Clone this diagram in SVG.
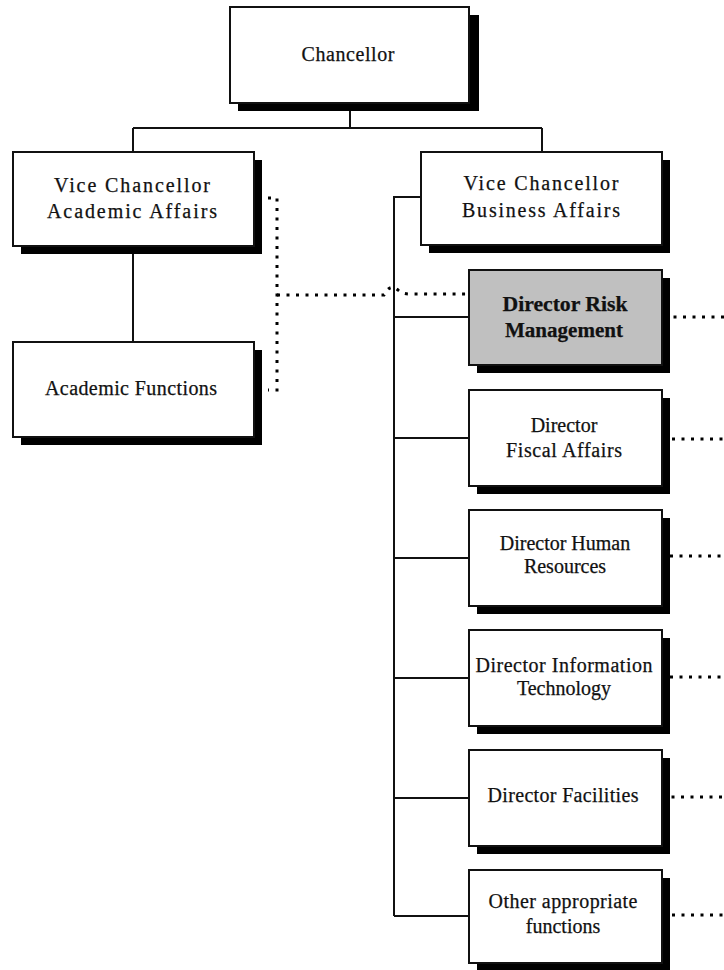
<svg xmlns="http://www.w3.org/2000/svg" width="724" height="970" viewBox="0 0 724 970">
  <defs>
    <style>
      .shadow { fill: #000; }
      .box { fill: #fff; stroke: #111; stroke-width: 2; }
      .box.hl { fill: #c0c0c0; }
      .solid { fill: none; stroke: #111; stroke-width: 2; }
      .dotted { fill: none; stroke: #000; stroke-width: 3; stroke-dasharray: 3 6.5; }
      text { font-family: "Liberation Serif", "Times New Roman", serif; font-size: 20px; fill: #111; text-anchor: middle; stroke: #111; stroke-width: 0.25; }
      .bold { font-weight: bold; }
    </style>
  </defs>

  <rect width="724" height="970" fill="#fff"/>

  <!-- reporting lines -->
  <g id="connectors">
    <path class="solid" d="M350,103 V128 M133,128 H542 M133,128 V152 M542,128 V152"/>
    <path class="solid" d="M133,246 V342"/>
    <path class="solid" d="M421,197 H394 V916"/>
    <path class="solid" d="M394,317 H469 M394,438 H469 M394,558 H469 M394,678 H469 M394,798 H469 M394,916 H469"/>
    <!-- dotted coordination lines -->
    <path class="dotted" d="M268,198 H277 V390 H268"/>
    <path class="dotted" d="M277,295 H384 Q390,283 398,290 Q402,294 410,294 H470"/>
    <path class="dotted" d="M664,317 H724 M672,439 H724 M670,556 H724 M670,677 H724 M662,797 H724 M672,915 H724"/>
  </g>

  <g id="chancellor">
    <rect class="shadow" x="238" y="15" width="241" height="96"/>
    <rect class="box" x="230" y="7" width="239" height="96"/>
    <text x="348" y="61" textLength="93" lengthAdjust="spacing">Chancellor</text>
  </g>

  <g id="vc-academic">
    <rect class="shadow" x="21" y="160" width="241" height="94"/>
    <rect class="box" x="13" y="152" width="241" height="94"/>
    <text x="132" y="192" textLength="156" lengthAdjust="spacing">Vice Chancellor</text>
    <text x="132" y="218" textLength="170" lengthAdjust="spacing">Academic Affairs</text>
  </g>

  <g id="vc-business">
    <rect class="shadow" x="429" y="160" width="241" height="93"/>
    <rect class="box" x="421" y="152" width="241" height="93"/>
    <text x="541" y="190" textLength="155" lengthAdjust="spacing">Vice Chancellor</text>
    <text x="541" y="217" textLength="158" lengthAdjust="spacing">Business Affairs</text>
  </g>

  <g id="academic-functions">
    <rect class="shadow" x="21" y="350" width="241" height="95"/>
    <rect class="box" x="13" y="342" width="241" height="95"/>
    <text x="131" y="395" textLength="172" lengthAdjust="spacing">Academic Functions</text>
  </g>

  <g id="director-risk">
    <rect class="shadow" x="477" y="278" width="193" height="95"/>
    <rect class="box hl" x="469" y="270" width="193" height="95"/>
    <text class="bold" x="565" y="311" textLength="125" lengthAdjust="spacingAndGlyphs">Director Risk</text>
    <text class="bold" x="564" y="337" textLength="118" lengthAdjust="spacingAndGlyphs">Management</text>
  </g>

  <g id="director-fiscal">
    <rect class="shadow" x="477" y="398" width="193" height="96"/>
    <rect class="box" x="469" y="390" width="193" height="96"/>
    <text x="564" y="432">Director</text>
    <text x="564" y="457" textLength="116" lengthAdjust="spacing">Fiscal Affairs</text>
  </g>

  <g id="director-hr">
    <rect class="shadow" x="477" y="518" width="193" height="96"/>
    <rect class="box" x="469" y="510" width="193" height="96"/>
    <text x="565" y="550">Director Human</text>
    <text x="565" y="573">Resources</text>
  </g>

  <g id="director-it">
    <rect class="shadow" x="477" y="638" width="193" height="96"/>
    <rect class="box" x="469" y="630" width="193" height="96"/>
    <text x="564" y="672" textLength="177" lengthAdjust="spacing">Director Information</text>
    <text x="564" y="695">Technology</text>
  </g>

  <g id="director-facilities">
    <rect class="shadow" x="477" y="758" width="193" height="96"/>
    <rect class="box" x="469" y="750" width="193" height="96"/>
    <text x="563" y="802" textLength="151" lengthAdjust="spacing">Director Facilities</text>
  </g>

  <g id="other-functions">
    <rect class="shadow" x="477" y="878" width="193" height="93"/>
    <rect class="box" x="469" y="870" width="193" height="93"/>
    <text x="563" y="908" textLength="149" lengthAdjust="spacing">Other appropriate</text>
    <text x="563" y="933">functions</text>
  </g>
</svg>
